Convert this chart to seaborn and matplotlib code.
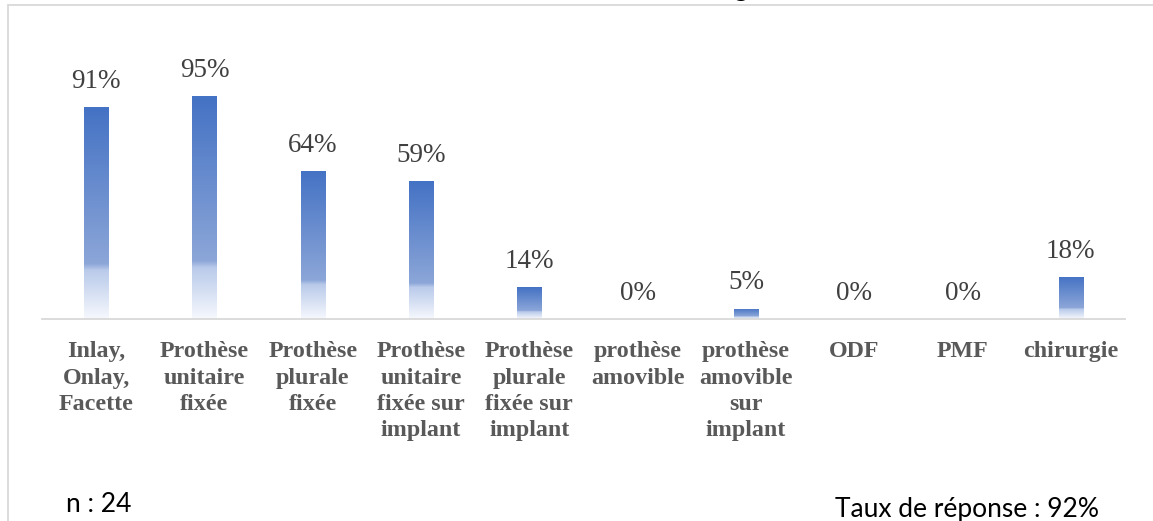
import numpy as np
import pandas as pd
import seaborn as sns
import matplotlib.pyplot as plt
from matplotlib.colors import LinearSegmentedColormap
from matplotlib.lines import Line2D

categories = [
    "Inlay,\nOnlay,\nFacette",
    "Prothèse\nunitaire\nfixée",
    "Prothèse\nplurale\nfixée",
    "Prothèse\nunitaire\nfixée sur\nimplant",
    "Prothèse\nplurale\nfixée sur\nimplant",
    "prothèse\namovible",
    "prothèse\namovible\nsur\nimplant",
    "ODF",
    "PMF",
    "chirurgie",
]
values = [90.9, 95.5, 63.6, 59.1, 13.6, 0.0, 4.5, 0.0, 0.0, 18.2]
labels = ["91%", "95%", "64%", "59%", "14%", "0%", "5%", "0%", "0%", "18%"]

df = pd.DataFrame({"cat": categories, "val": values})

sns.set_style("white")
plt.rcParams["font.family"] = ["Liberation Serif", "DejaVu Serif"]

fig = plt.figure(figsize=(11.53, 5.21), dpi=100)
ax = fig.add_axes([42 / 1153, 202 / 521, (1125 - 42) / 1153, 233 / 521])

sns.barplot(data=df, x="cat", y="val", ax=ax, width=0.225, color="#4472C4")
ax.set_ylim(0, 100)
ax.set_xlim(-0.5, len(categories) - 0.5)

# gradient fill for every bar, clipped to the bar shape
cmap = LinearSegmentedColormap.from_list(
    "xl",
    [(0.0, "#4472C4"), (0.74, "#8CA6D8"), (0.77, "#B9CAEA"), (1.0, "#F6F8FD")],
)
grad = np.linspace(0, 1, 256).reshape(-1, 1)
for p in ax.patches:
    x0, y0 = p.get_x(), p.get_y()
    w, h = p.get_width(), p.get_height()
    if h <= 0:
        continue
    im = ax.imshow(grad, cmap=cmap, aspect="auto", origin="upper",
                   extent=[x0, x0 + w, y0, y0 + h], zorder=2)
    im.set_clip_path(p)
    p.set_facecolor("none")
    p.set_edgecolor("none")

for i, (v, lab) in enumerate(zip(values, labels)):
    ax.annotate(lab, (i, v), xytext=(0, 13.7), textcoords="offset points",
                ha="center", va="baseline", fontsize=19.5, color="#404040")

ax.set_xlabel("")
ax.set_ylabel("")
ax.set_yticks([])
ax.tick_params(axis="x", length=0, pad=16)
for t in ax.get_xticklabels():
    t.set_fontweight("bold")
    t.set_fontsize(17.3)
    t.set_color("#595959")
    t.set_linespacing(1.33)
for s in ["top", "right", "left"]:
    ax.spines[s].set_visible(False)
ax.spines["bottom"].set_color("#D9D9D9")
ax.spines["bottom"].set_linewidth(1.3)

# chart area frame (left and top edges)
fig.add_artist(Line2D([7.5 / 1153, 7.5 / 1153], [0, 516 / 521],
                      transform=fig.transFigure, color="#D9D9D9", lw=1.3))
fig.add_artist(Line2D([7.5 / 1153, 1], [516 / 521, 516 / 521],
                      transform=fig.transFigure, color="#D9D9D9", lw=1.3))
fig.text(733 / 1153, 1 + 4 / 521, "g", fontsize=20, family=["Lato", "DejaVu Sans"],
         va="baseline", color="black")

fig.text(66 / 1153, 9 / 521, "n : 24", fontsize=19, family=["Lato", "DejaVu Sans"],
         va="baseline", color="black")
fig.text(835 / 1153, 4 / 521, "Taux de réponse : 92%", fontsize=19,
         family=["Lato", "DejaVu Sans"], va="baseline", color="black")

fig.savefig("out.png", dpi=100)
